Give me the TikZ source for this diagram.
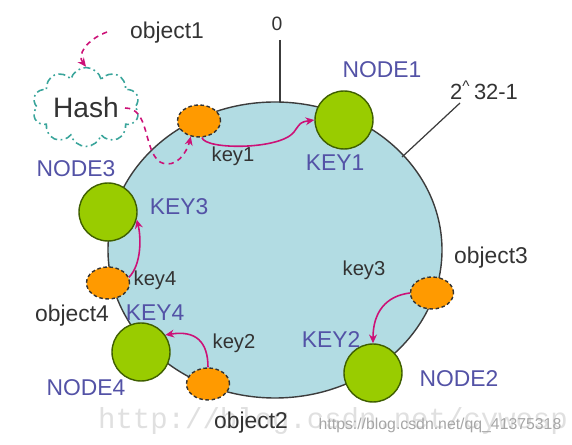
\documentclass[tikz,border=0pt]{standalone}
\usepackage{fontspec}
\setmainfont{Liberation Sans}
\newfontfamily\wmmono{Liberation Mono}
\usetikzlibrary{arrows.meta,shapes.symbols,shapes.geometric}
\definecolor{ringfill}{HTML}{B2DCE3}
\definecolor{ringline}{HTML}{3C3C3C}
\definecolor{nodegreen}{HTML}{99CC00}
\definecolor{nodeedge}{HTML}{3F5F00}
\definecolor{objorange}{HTML}{FF9A00}
\definecolor{labblue}{HTML}{5352A6}
\definecolor{arrmag}{HTML}{CC1177}
\definecolor{hashteal}{HTML}{3AA59B}
\definecolor{txtdark}{HTML}{333333}
\tikzset{
  servernode/.style={circle, fill=nodegreen, draw=nodeedge, line width=0.8pt, minimum size=1.16cm, inner sep=0pt},
  objnode/.style={ellipse, fill=objorange, draw=black!80, line width=0.8pt, dash pattern=on 2pt off 1.5pt, minimum width=0.86cm, minimum height=0.64cm, inner sep=0pt},
  nodelab/.style={text=labblue, font=\fontsize{13}{15}\selectfont, inner sep=0pt},
  objlab/.style={text=txtdark, font=\fontsize{13}{15}\selectfont, inner sep=0pt},
  keylab/.style={text=txtdark, font=\fontsize{11.5}{13}\selectfont, inner sep=0pt},
  keyarrow/.style={draw=arrmag, line width=0.9pt, -{Stealth[length=5pt,width=4.5pt]}},
  hasharrow/.style={draw=arrmag, line width=0.9pt, dash pattern=on 3pt off 2.5pt, -{Stealth[length=5pt,width=4.5pt]}},
  markline/.style={draw=ringline, line width=0.7pt},
}
\begin{document}
\begin{tikzpicture}[x=0.02cm, y=-0.02cm]
\useasboundingbox (0,0) rectangle (572,445);
% watermarks
\node[text=black!12, font=\wmmono\fontsize{16.5}{18}\selectfont, inner sep=0pt] (wm1) at (333,421) {http://blog.csdn.net/cywosp};
\node[text=black!35, font=\fontsize{9}{10}\selectfont, inner sep=0pt] (wm2) at (440,425) {https://blog.csdn.net/qq\_41375318};
% ring
\draw[fill=ringfill, draw=ringline, line width=0.8pt] (275,250) ellipse [x radius=167, y radius=148];
% marks
\coordinate (ztop) at (280,40);
\coordinate (zring) at (280,102);
\node[text=txtdark, font=\fontsize{11}{13}\selectfont, inner sep=0pt] (zero) at (277,24) {0};
\draw[markline] (ztop) -- (zring);
\coordinate (mring) at (402,157);
\coordinate (mend) at (460,103);
\node[text=txtdark, font=\fontsize{12.5}{14}\selectfont, inner sep=0pt] (maxlab) at (484,90) {2\textsuperscript{\textasciicircum}\,32-1};
\draw[markline] (mring) -- (mend);
% hash cloud
\node[cloud, cloud puffs=10, aspect=1.55, draw=hashteal, line width=0.9pt, dash pattern=on 4pt off 2pt on 1pt off 2pt, minimum width=2.14cm, minimum height=1.42cm, inner sep=0pt, font=\fontsize{16}{18}\selectfont, text=txtdark] (hash) at (86,107) {Hash};
% servers
\node[servernode] (n1) at (344,120) {};
\node[servernode] (n2) at (373,373) {};
\node[servernode] (n3) at (108,212) {};
\node[servernode] (n4) at (141,352) {};
% objects
\node[objnode] (o1) at (199,121) {};
\node[objnode] (o2) at (208,384) {};
\node[objnode] (o3) at (432,293) {};
\node[objnode] (o4) at (108,283) {};
% labels
\node[nodelab] (l1) at (382,70) {NODE1};
\node[nodelab] (l2) at (459,379) {NODE2};
\node[nodelab] (l3) at (76,169) {NODE3};
\node[nodelab] (l4) at (86,388) {NODE4};
\node[nodelab] (k1) at (335,163) {KEY1};
\node[nodelab] (k2) at (331,340) {KEY2};
\node[nodelab] (k3) at (179,207) {KEY3};
\node[nodelab] (k4) at (155,313) {KEY4};
\node[objlab] (ob1) at (167,33) {object1};
\node[objlab] (ob2) at (251,423) {object2};
\node[objlab] (ob3) at (491,258) {object3};
\node[objlab] (ob4) at (72,316) {object4};
\node[keylab] (y1) at (233,156) {key1};
\node[keylab] (y2) at (234,343) {key2};
\node[keylab] (y3) at (364,270) {key3};
\node[keylab] (y4) at (155,280) {key4};
% key arrows
\draw[keyarrow] (o1.-80) .. controls (205,150) and (280,150) .. (294,132) .. controls (301,122) .. (n1.west);
\draw[keyarrow] (o4.15) .. controls (142,264) and (141,236) .. (n3.-15);
\draw[keyarrow] (o2.north) .. controls (208,342) and (196,330) .. (n4.35);
\draw[keyarrow] (o3.west) .. controls (386,296) and (373,312) .. (n2.north);
% hash arrows
\coordinate (h1s) at (107,32);
\draw[hasharrow] (h1s) .. controls (86,40) and (77,55) .. (hash.north);
\coordinate (hs) at (125,108);
\draw[hasharrow] (hs) .. controls (150,108) and (143,150) .. (160,162) .. controls (176,170) and (187,152) .. (o1.-118);
\end{tikzpicture}
\end{document}
